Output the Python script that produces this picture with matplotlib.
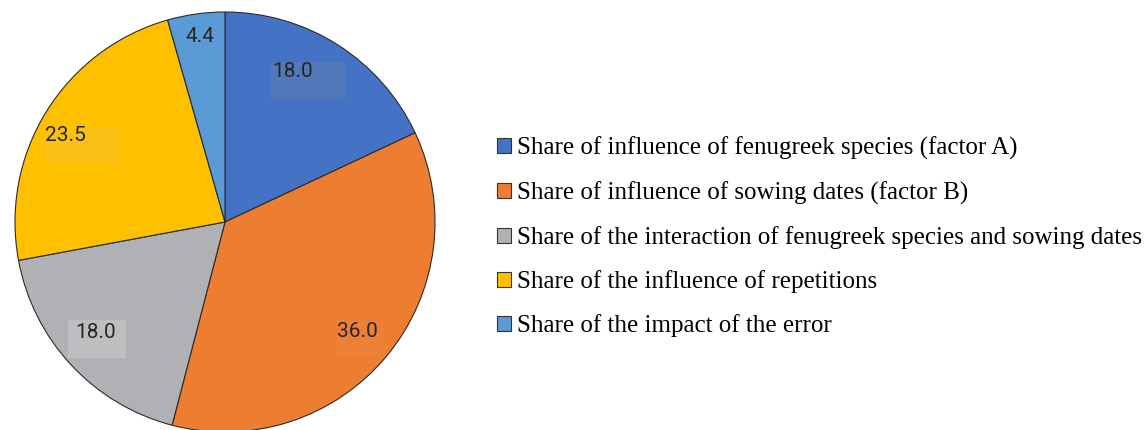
import matplotlib.pyplot as plt
from matplotlib.patches import Rectangle

labels = [
    'Share of influence of fenugreek species (factor A)',
    'Share of influence of sowing dates (factor B)',
    'Share of the interaction of fenugreek species and sowing dates',
    'Share of the influence of repetitions',
    'Share of the impact of the error',
]
shares = [18.0, 36.0, 18.0, 23.5, 4.4]
colors = ['#4472C4', '#ED7D31', '#B0B1B4', '#FFC000', '#5B9BD5']

# label spots in pixels (left, top) and the shaded boxes behind them
label_pos = [(272, 62), (337, 322), (75, 323), (45, 126), (186, 27)]
box_pos = [(271, 62, 74, 37), (334, 318, 52, 38), (68, 320, 58, 38), (45, 127, 74, 36), None]
box_color = ['#7f8aa0', '#f0a070', '#d8d8d8', '#f0c040', '#ffffff']
box_alpha = [0.25, 0.1, 0.35, 0.3, 0]

W, H = 1145, 430
fig = plt.figure(figsize=(W / 100, H / 100), dpi=100)
ax = fig.add_axes([0, 0, 1, 1])

wedges, _ = ax.pie(shares, colors=colors, startangle=90, counterclock=False,
                   center=(225, H - 222), radius=210,
                   wedgeprops=dict(edgecolor='#2b2b2b', linewidth=0.8))
ax.set_xlim(0, W)
ax.set_ylim(0, H)
ax.set_aspect('equal')
ax.axis('off')

for v, (px, py), box, c, a in zip(shares, label_pos, box_pos, box_color, box_alpha):
    if box is not None:
        bx, by, bw, bh = box
        ax.add_patch(Rectangle((bx, H - by - bh), bw, bh, facecolor=c,
                               alpha=a, edgecolor='none', zorder=3))
    ax.text(px, H - py, f'{v:.1f}', ha='left', va='top', fontsize=15,
            family='Roboto', color='#262626', zorder=4)

leg = fig.legend(wedges, labels, loc='center left', bbox_to_anchor=(497 / W, 1 - 237 / H),
                 frameon=False, prop={'family': 'Liberation Serif', 'size': 18},
                 handlelength=0.55, handleheight=0.55, handletextpad=0.24,
                 labelspacing=0.85, borderpad=0, borderaxespad=0)
for h in leg.legend_handles:
    h.set_edgecolor('#333333')
    h.set_linewidth(0.8)

fig.savefig('out.png', dpi=100)
